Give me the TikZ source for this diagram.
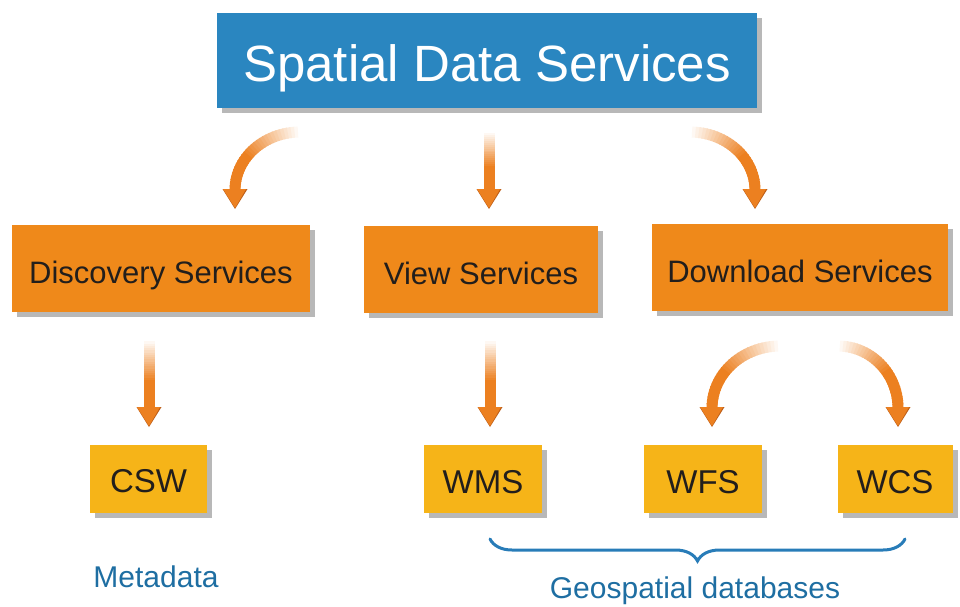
\documentclass[tikz,border=0pt]{standalone}
\usepackage{fontspec}
\setmainfont{Liberation Sans}
\usetikzlibrary{shadows,decorations.pathreplacing,calc}
\definecolor{titleblue}{RGB}{42,134,192}
\definecolor{boxorange}{RGB}{239,137,26}
\definecolor{boxyellow}{RGB}{246,180,24}
\definecolor{arrowC}{RGB}{236,128,32}
\definecolor{arrowD}{RGB}{190,95,25}
\definecolor{labelblue}{RGB}{30,110,162}
\definecolor{braceblue}{RGB}{40,124,184}
\definecolor{textdark}{RGB}{34,30,28}
\newcommand\fadearc[5]{%
  \foreach \i in {0,...,29}{%
    \pgfmathsetmacro\aa{#2+(#3-#2)*max(0,\i-0.4)/30}%
    \pgfmathsetmacro\bb{#2+(#3-#2)*(\i+1)/30}%
    \pgfmathsetmacro\cc{min(100,\i*100/18)}%
    \draw[line width=11, arrowC!\cc!white] ($(#1)+(\aa:#4 and #5)$) arc[start angle=\aa, end angle=\bb, x radius=#4, y radius=#5];
  }}
\newcommand\fadeline[2]{%
  \foreach \i in {0,...,29}{%
    \pgfmathsetmacro\aa{max(0,\i-0.4)/30}%
    \pgfmathsetmacro\bb{(\i+1)/30}%
    \pgfmathsetmacro\cc{min(100,\i*100/18)}%
    \draw[line width=11, arrowC!\cc!white] ($(#1)!\aa!(#2)$) -- ($(#1)!\bb!(#2)$);
  }}
\newcommand\headdown[1]{%
  \fill[arrowD] ($(#1)+(-12.5,-19)$) -- ($(#1)+(12.5,-19)$) -- ($(#1)+(0,1)$) -- cycle;
  \fill[arrowC] ($(#1)+(-12,-19)$) -- ($(#1)+(11,-19)$) -- (#1) -- cycle;}
\begin{document}
\begin{tikzpicture}[x=1pt,y=-1pt,
  shad/.style={drop shadow={shadow xshift=5pt,shadow yshift=-5pt,opacity=0.28,fill=black}},
  titlebox/.style={shad, fill=titleblue, text=white, inner sep=0pt, text height=55pt, text depth=12pt, font=\fontsize{51}{56}\selectfont},
  svcbox/.style={shad, fill=boxorange, text=textdark, inner sep=0pt, minimum height=87pt, text height=36pt, text depth=6pt, font=\fontsize{31}{36}\selectfont},
  stdbox/.style={shad, fill=boxyellow, text=textdark, inner sep=0pt, minimum height=68pt, text height=33pt, text depth=5pt, font=\fontsize{33}{38}\selectfont},
  lbl/.style={text=labelblue, inner sep=0pt, font=\fontsize{30}{34}\selectfont}]
\useasboundingbox (0,0) rectangle (960,607);
% boxes
\node[titlebox, minimum width=540pt, minimum height=95pt] (title) at (487,60.5) {Spatial Data Services};
\node[svcbox, minimum width=298pt] (disc) at (161,268.5) {Discovery Services};
\node[svcbox, minimum width=234pt] (view) at (481,269) {View Services};
\node[svcbox, minimum width=296pt] (down) at (800,267.5) {Download Services};
\node[stdbox, minimum width=117pt] (csw) at (148.5,478.5) {CSW};
\node[stdbox, minimum width=118pt] (wms) at (483,479) {WMS};
\node[stdbox, minimum width=118pt] (wfs) at (703,479) {WFS};
\node[stdbox, minimum width=115pt] (wcs) at (895,479) {WCS};
% labels
\node[lbl] (meta) at (156,577) {Metadata};
\node[lbl] (geo) at (695,591) {Geospatial databases};
% brace
\coordinate (bl) at (490,539);
\coordinate (br) at (905,539);
\draw[braceblue, line width=3, line cap=round, decorate, decoration={brace, mirror, amplitude=22pt}] (bl) -- (br);
% arrow centers and tips
\coordinate (c1) at (300,190);
\coordinate (h1) at (235,208);
\coordinate (c3) at (690,190);
\coordinate (h3) at (755,208);
\coordinate (t2) at (489,132);
\coordinate (e2) at (489,190);
\coordinate (h2) at (489,208);
\coordinate (t4) at (149,340);
\coordinate (e4) at (149,408);
\coordinate (h4) at (149,426);
\coordinate (t5) at (490,340);
\coordinate (e5) at (490,408);
\coordinate (h5) at (490,426);
\coordinate (c6) at (780,408);
\coordinate (h6) at (712,426);
\coordinate (c7) at (838,408);
\coordinate (h7) at (898,426);
% arrows
\fadearc{c1}{270}{180}{65}{58}
\headdown{h1}
\fadeline{t2}{e2}
\headdown{h2}
\fadearc{c3}{270}{360}{65}{58}
\headdown{h3}
\fadeline{t4}{e4}
\headdown{h4}
\fadeline{t5}{e5}
\headdown{h5}
\fadearc{c6}{270}{180}{68}{62}
\headdown{h6}
\fadearc{c7}{270}{360}{60}{62}
\headdown{h7}
\end{tikzpicture}
\end{document}
